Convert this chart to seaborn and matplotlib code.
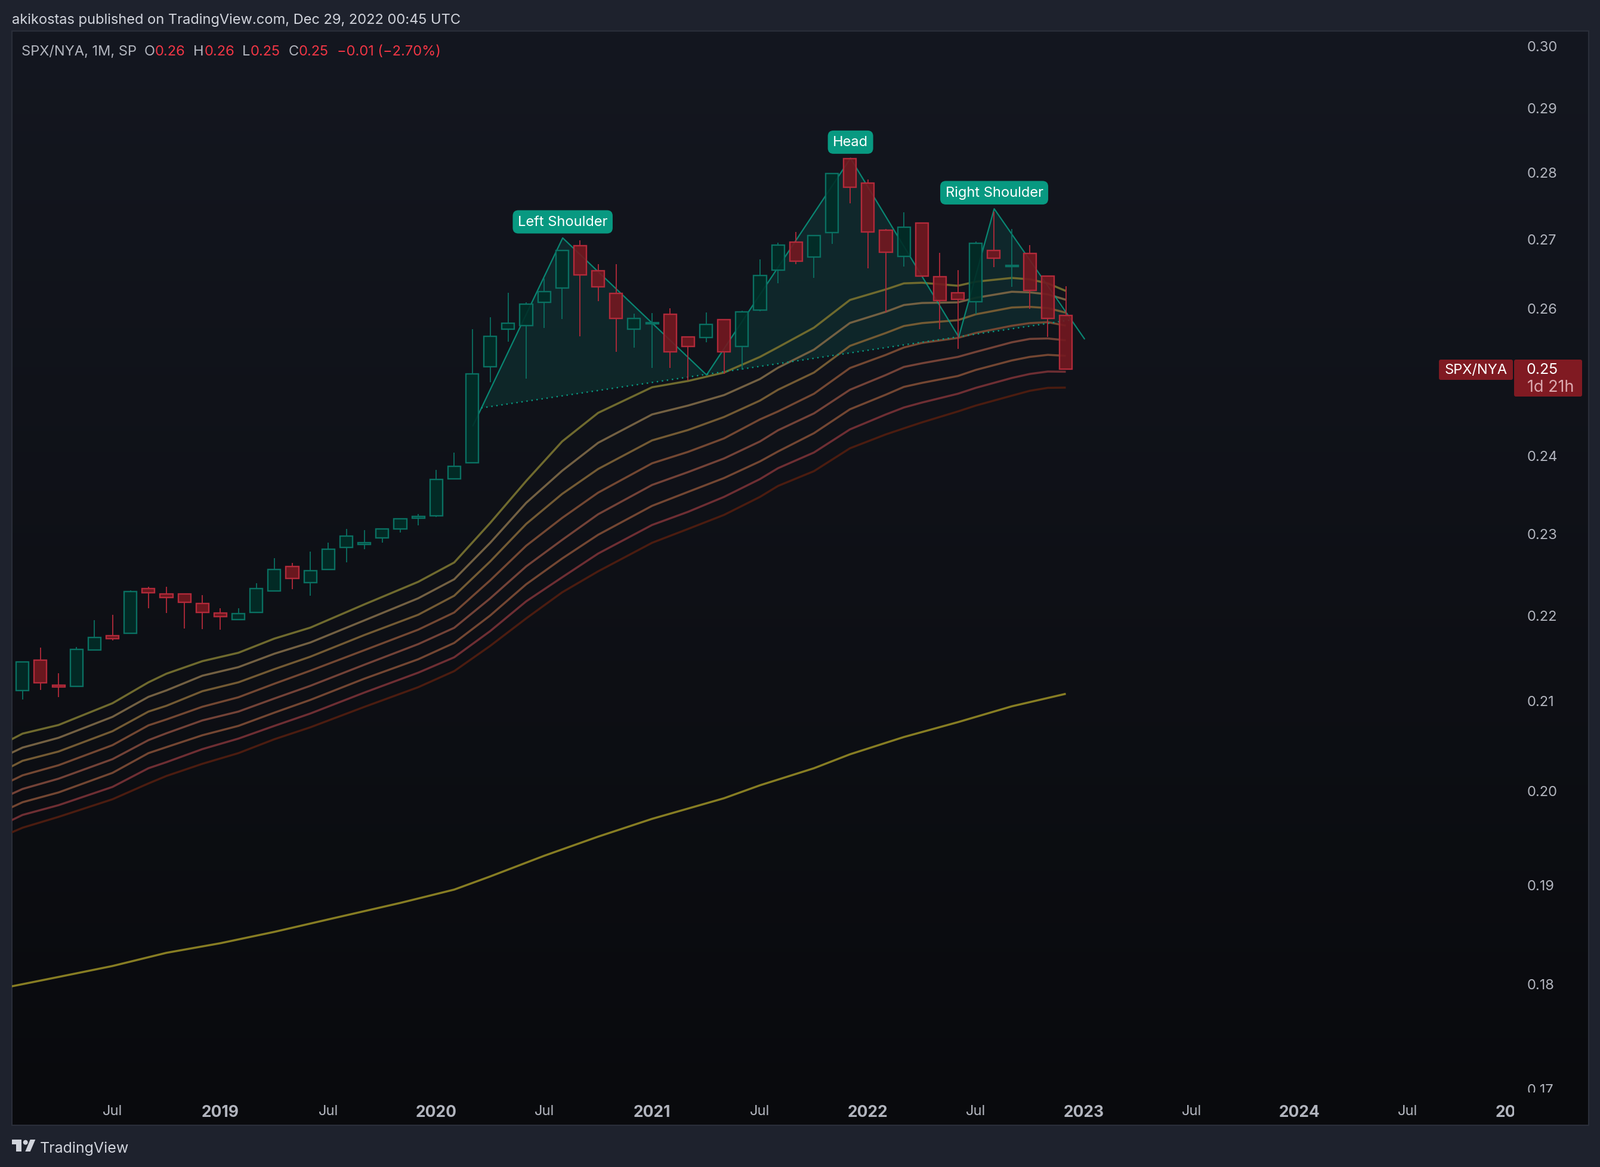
import matplotlib
matplotlib.use("Agg")
import matplotlib.pyplot as plt
import numpy as np
import pandas as pd
import seaborn as sns
from matplotlib.patches import FancyBboxPatch, Polygon, Circle, Rectangle
from matplotlib.transforms import Bbox, TransformedBbox

W, H = 2682, 1958

# month index 0 = Feb 2018, one candle per month up to Dec 2022
months = list(range(59))
opens = [.21112, .21469, .21176, .21165, .21583, .21755, .21786, .2232, .22255, .22255,
         .22138, .22028, .21946, .22031, .22294, .22591, .22391, .2255, .22827, .22861,
         .22944, .23056, .2319, .23218, .23697, .23905, .25188, .25707, .25751, .26083,
         .26283, .26902, .26535, .26208, .25707, .25782, .25911, .25596, .25591, .25836,
         .25467, .25972, .26547, .26956, .26736, .27092, .28202, .2783, .27124, .26747,
         .27231, .26449, .26217, .26094, .26827, .26595, .26784, .26458, .25894]
highs = [.21448, .21611, .21312, .21618, .21941, .22004, .22301, .22338, .2234, .22255,
         .22238, .22082, .22082, .22384, .22691, .22632, .22771, .22888, .23056, .23043,
         .23066, .23195, .23241, .23811, .24036, .25701, .25873, .2622, .26083, .26427,
         .26827, .2698, .26627, .26627, .25922, .25933, .25997, .25596, .25941, .25836,
         .25966, .26696, .26943, .27104, .27053, .27981, .28202, .27889, .27148, .27398,
         .27231, .26799, .26541, .26962, .27401, .27148, .26905, .26458, .26309]
lows = [.21014, .21121, .21037, .21165, .21583, .21699, .21786, .2208, .22028, .21838,
        .21832, .21825, .21946, .22031, .22294, .22311, .22233, .2255, .22642, .22802,
        .22883, .23014, .23098, .23205, .23697, .23905, .24976, .25527, .25025, .2572,
        .25845, .25604, .26096, .25389, .25445, .25166, .25166, .24995, .25519, .25086,
        .25141, .25955, .26354, .26627, .26432, .26928, .27526, .26569, .25941, .26593,
        .26461, .25707, .25431, .25914, .26584, .26303, .25989, .25596, .25155]
closes = [.21448, .21204, .21158, .21595, .21734, .2172, .22284, .22272, .22214, .22155,
          .22031, .21981, .22014, .2232, .22554, .2244, .22539, .22802, .2297, .22885,
          .23053, .23182, .23216, .23684, .23854, .25083, .25604, .25787, .26062, .26234,
          .26827, .26478, .26306, .25856, .25853, .25798, .25392, .25467, .2577, .25392,
          .25952, .26466, .26905, .26676, .27053, .27981, .27771, .27101, .26805, .27169,
          .26461, .26108, .26126, .26939, .26719, .26616, .26255, .25859, .25155]

# moving average ribbon, read at these months
ribbon_months = [-1, 0, 2, 5, 7, 8, 10, 12, 14, 16, 19, 22, 24, 26, 28, 30, 32, 35, 37, 39, 41, 42, 44,
                 46, 48, 49, 50, 52, 53, 55, 56, 57, 58]
ema_1 = [.2052, .20625, .20722, .20969, .21209, .21309, .21455, .21553, .2172, .2185, .22128, .22402, .22639,
         .23132, .23666, .24181, .2456, .24905, .2499, .25105, .2532, .25453, .25726,
         .26117, .26268, .26354, .26363, .2632, .26378, .26432, .26412, .26354, .26246]
ema_2 = [.20374, .20469, .20578, .20814, .21042, .21116, .21286, .21385, .21542, .21674, .21936, .22202, .22433,
         .22883, .23386, .23798, .24163, .24539, .24658, .24799, .25017, .25171, .2542,
         .25792, .2595, .26045, .26074, .26083, .26148, .26234, .26225, .26197, .2612]
ema_3 = [.2022, .20322, .20425, .20652, .20874, .2094, .21107, .21209, .21362, .21507, .21762, .22004, .22233,
         .22652, .23119, .235, .23821, .24195, .24332, .24505, .24725, .24871, .25105,
         .25472, .25652, .25749, .2579, .25831, .25914, .2601, .26019, .26002, .25937]
ema_4 = [.20067, .20162, .20273, .20496, .20718, .20785, .20929, .21037, .21193, .21344, .21583, .21826, .22031,
         .2242, .22846, .23195, .23516, .23895, .24044, .24221, .24473, .24579, .24817,
         .25167, .25348, .2545, .25513, .25583, .25652, .25753, .2579, .25803, .25755]
ema_5 = [.19924, .20013, .20125, .2034, .20552, .20629, .20774, .20874, .21023, .21169, .21413, .21655, .21848,
         .22201, .22591, .22919, .23241, .23615, .23781, .23958, .24181, .24328, .24553,
         .24871, .25072, .25182, .25232, .2532, .25389, .25522, .25569, .25575, .2555]
ema_6 = [.19779, .19869, .19975, .20189, .20407, .20474, .20607, .20712, .20862, .21007, .21251, .21477, .21669,
         .21995, .22372, .22688, .22983, .23348, .23526, .23704, .2392, .24049, .2429,
         .24608, .24805, .2491, .24964, .25058, .25141, .25271, .2532, .25348, .25335]
ema_7 = [.19639, .19732, .19837, .20035, .2024, .20307, .20452, .20569, .20712, .20852, .21091, .21321, .215,
         .21809, .22165, .22457, .22749, .23106, .23272, .23462, .23691, .23831, .24036,
         .2434, .24539, .24632, .24698, .24817, .24897, .25031, .25086, .25119, .25116]
ema_8 = [.19513, .19595, .19711, .19901, .20073, .20155, .20289, .20407, .20562, .20696, .20927, .21153, .21339,
         .21634, .2196, .22274, .2253, .22883, .23056, .23233, .23462, .23602, .23793,
         .24091, .24274, .24354, .24433, .24579, .24658, .24791, .24857, .24897, .249]
ribbon_values = [ema_1, ema_2, ema_3, ema_4, ema_5, ema_6, ema_7, ema_8]
ribbon_colors = ["#6f6a2e", "#736042", "#735a33", "#734732", "#734237", "#734632", "#6e2e33", "#4b1c10"]

long_months = [-1, 2, 5, 8, 11, 14, 17, 21, 24, 26, 29, 32, 35, 39, 41, 44, 46, 49, 52, 55, 58]
long_ema = [.1796, .18066, .18174, .18305, .18401, .18515, .18641, .18809, .18946, .19082, .19298,
            .195, .1969, .19912, .20053, .2024, .20394, .20587, .20754, .20934, .21077]

# head and shoulders drawing
pattern_months = [25.04, 30.03, 38.03, 46.03, 52.05, 54.02, 59.04]
pattern_prices = [.24388, .27014, .25072, .28212, .25596, .27446, .25569]
neck_months = [25.5, 58.2]
neck_prices = [.24626, .25831]
fill_months = [25.5, 30.03, 38.03, 46.03, 52.05, 54.02, 58.2]
fill_prices = [.24626, .27014, .25072, .28212, .25596, .27446, .25831]
label_texts = ["Left Shoulder", "Head", "Right Shoulder"]
label_months = [30.03, 46.03, 54.02]
label_prices = [.27014, .28212, .27446]

# 0.25 sits behind the last price tag on the axis, so it is not labelled
price_ticks = [.30, .29, .28, .27, .26, .24, .23, .22, .21, .20, .19, .18, .17]
price_labels = ["0.30", "0.29", "0.28", "0.27", "0.26", "0.24", "0.23", "0.22", "0.21",
                "0.20", "0.19", "0.18", "0.17"]
time_ticks = [5, 11, 17, 23, 29, 35, 41, 47, 53, 59, 65, 71, 77, 83]
time_labels = ["Jul", "2019", "Jul", "2020", "Jul", "2021", "Jul", "2022", "Jul", "2023", "Jul",
               "2024", "Jul", "2025"]

UP_EDGE, UP_BODY = "#0a7062", "#012d27"
DOWN_EDGE, DOWN_BODY = "#b22a3a", "#741820"
TEAL = "#089981"
GREY = "#b2b5be"
RED = "#f23645"

sns.set_theme(style="dark", rc={"font.family": "Inter", "axes.grid": False})

fig = plt.figure(figsize=(W / 100, H / 100), dpi=100, facecolor="#1e222d")

# chart pane background
back = fig.add_axes([0, 0, 1, 1], zorder=0)
back.axis("off")
gradient = np.linspace((20, 23, 32), (9, 10, 13), 256)[:, None, :].astype(np.uint8)
back.imshow(gradient, extent=(20, 2663, 1888, 53), aspect="auto", interpolation="bilinear", zorder=0)
back.set_xlim(0, W)
back.set_ylim(H, 0)
back.add_patch(Rectangle((20, 53), 2643, 1835, fill=False, ec="#2a2e39", lw=1.5, zorder=1))

ax = fig.add_axes([20 / W, 1 - 1833 / H, 2520.9 / W, 1780 / H], zorder=1)
ax.patch.set_visible(False)
ax.set_yscale("log")
ax.set_xlim(-0.59, 83.02)
ax.set_ylim(.16965, .30235)
for side in ax.spines.values():
    side.set_visible(False)

ax.fill(fill_months, fill_prices, color=TEAL, alpha=0.15, lw=0, zorder=1)

ribbon = pd.DataFrame({
    "month": ribbon_months * len(ribbon_values),
    "price": np.concatenate(ribbon_values),
    "band": np.repeat(np.arange(len(ribbon_values)), len(ribbon_months)),
})
sns.lineplot(data=ribbon, x="month", y="price", hue="band", palette=ribbon_colors, legend=False,
             estimator=None, sort=False, linewidth=2.5, solid_capstyle="butt", ax=ax, zorder=2)
sns.lineplot(x=long_months, y=long_ema, color="#877d23", estimator=None, sort=False, linewidth=2.5,
             solid_capstyle="butt", ax=ax, zorder=2)
sns.lineplot(x=pattern_months, y=pattern_prices, color=TEAL, alpha=0.85, estimator=None, sort=False,
             linewidth=1.6, ax=ax, zorder=2.5)
sns.lineplot(x=neck_months, y=neck_prices, color=TEAL, estimator=None, sort=False, linewidth=1.7,
             linestyle=(0, (1, 2.6)), ax=ax, zorder=2.5)

candles = pd.DataFrame({"month": months, "open": opens, "high": highs, "low": lows, "close": closes})
candles["top"] = candles[["open", "close"]].max(axis=1)
candles["bottom"] = candles[["open", "close"]].min(axis=1)
for rising, edge, body in ((True, UP_EDGE, UP_BODY), (False, DOWN_EDGE, DOWN_BODY)):
    part = candles[(candles.close >= candles.open) == rising]
    ax.vlines(part.month, part.top, part.high, color=edge, lw=1.3, zorder=3)
    ax.vlines(part.month, part.low, part.bottom, color=edge, lw=1.3, zorder=3)
    ax.bar(part.month, part.top - part.bottom, bottom=part.bottom, width=0.7,
           facecolor=matplotlib.colors.to_rgba(body, 0.9), edgecolor=edge, lw=1.7, zorder=4)

for text, month, price in zip(label_texts, label_months, label_prices):
    ax.annotate(text, (month, price), xytext=(0, 19.4), textcoords="offset points", ha="center",
                va="center", color="white", fontsize=17, zorder=6,
                bbox=dict(boxstyle="round,pad=0.36,rounding_size=0.4", fc=TEAL, ec="none"))

ax.set_xlabel("")
ax.set_ylabel("")
ax.yaxis.tick_right()
ax.set_yticks(price_ticks, labels=price_labels)
ax.minorticks_off()
ax.set_xticks(time_ticks, labels=time_labels)
ax.tick_params(axis="y", length=0, pad=13.2, labelsize=17, labelcolor=GREY)
ax.tick_params(axis="x", length=0, pad=14.5, labelsize=17, labelcolor=GREY)
for label in ax.get_xticklabels():
    if label.get_text() != "Jul":
        label.set_fontweight("bold")
        label.set_fontsize(19)

# the last labels run off their panes and get cut there
x_label = ax.get_xticklabels()[-1]
x_label.set_clip_on(True)
x_label.set_clip_box(TransformedBbox(Bbox([[0, 0], [2538 / W, 1]]), fig.transFigure))
y_label = ax.get_yticklabels()[-1]
y_label.set_clip_on(True)
y_label.set_clip_box(TransformedBbox(Bbox([[0, 1 - 1833 / H], [1, 1]]), fig.transFigure))

# interface text and the last price tags
top = fig.add_axes([0, 0, 1, 1], zorder=2)
top.set_xlim(0, W)
top.set_ylim(H, 0)
top.axis("off")
top.patch.set_visible(False)

top.text(20, 33.5, "akikostas published on TradingView.com, Dec 29, 2022 00:45 UTC", color="#d1d4dc",
         fontsize=17, va="center")
legend_parts = [(36, "SPX/NYA, 1M, SP", GREY), (242, "O", GREY), (260, "0.26", RED), (324, "H", GREY),
                (343, "0.26", RED), (406, "L", GREY), (420, "0.25", RED), (484, "C", GREY),
                (501, "0.25", RED), (565, "\u22120.01 (\u22122.70%)", RED)]
for x, text, color in legend_parts:
    top.text(x, 87, text, color=color, fontsize=17, va="center")

for x0, y0, w, h in ((2412, 604, 124, 34), (2538, 604, 114, 62)):
    top.add_patch(FancyBboxPatch((x0 + 3, y0 + 3), w - 6, h - 6, boxstyle="round,pad=3,rounding_size=3",
                                 fc="#801a22", ec="none", zorder=3))
top.text(2474, 621, "SPX/NYA", color="white", fontsize=17, ha="center", va="center", zorder=4)
top.text(2559, 621, "0.25", color="white", fontsize=18, va="center", zorder=4)
top.text(2560, 650, "1d 21h", color="#dcaab0", fontsize=19.5, va="center", zorder=4)

# TradingView logo
logo = "#d1d4dc"
top.add_patch(Polygon([(20, 1912), (36, 1912), (36, 1932), (27.5, 1932), (27.5, 1920), (20, 1920)],
                      fc=logo, ec="none"))
top.add_patch(Circle((42.7, 1916.7), 4, fc=logo, ec="none"))
top.add_patch(Polygon([(50.7, 1912), (59.3, 1912), (50.7, 1932), (42.3, 1932)], fc=logo, ec="none"))
top.text(67, 1926.5, "TradingView", color=logo, fontsize=18, va="center")

fig.savefig("out.png", dpi=100, facecolor=fig.get_facecolor())
